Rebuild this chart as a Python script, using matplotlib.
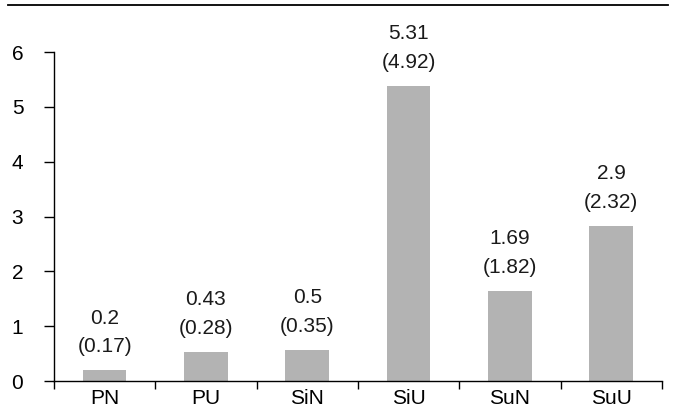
import numpy as np
import matplotlib
matplotlib.use("Agg")
import matplotlib.pyplot as plt
from matplotlib.lines import Line2D

CATEGORIES = ["PN", "PU", "SiN", "SiU", "SuN", "SuU"]
BAR_HEIGHTS = [0.20, 0.53, 0.57, 5.38, 1.65, 2.83]
MEANS = ["0.2", "0.43", "0.5", "5.31", "1.69", "2.9"]
SDS = ["0.17", "0.28", "0.35", "4.92", "1.82", "2.32"]

plt.rcParams['font.family'] = ['Liberation Sans Narrow', 'Liberation Sans', 'DejaVu Sans']
plt.rcParams['font.size'] = 15

def main():
    fig = plt.figure(figsize=(6.74, 4.17), dpi=100)
    ax = fig.add_axes([0.080, 0.086, 0.902, 0.789])

    x = np.arange(len(CATEGORIES))
    ax.bar(x, BAR_HEIGHTS, width=0.43, color="#b3b3b3", zorder=2)

    for xi, h, m, s in zip(x, BAR_HEIGHTS, MEANS, SDS):
        ax.annotate(m + "\n(" + s + ")", (xi, h), xytext=(0, 10),
                    textcoords="offset points", ha="center", va="bottom",
                    fontsize=15, linespacing=1.65, color="#1a1a1a")

    ax.set_xlim(-0.5, len(CATEGORIES) - 0.5)
    ax.set_ylim(0, 6)
    ax.set_yticks(range(0, 7))

    ax.set_xticks(np.arange(-0.5, len(CATEGORIES)), labels=[])
    ax.set_xticks(x, labels=CATEGORIES, minor=True)
    ax.tick_params(axis="x", which="major", length=6, width=1, direction="out")
    ax.tick_params(axis="x", which="minor", length=0, pad=6, labelsize=15)
    ax.tick_params(axis="y", length=7, width=1, pad=15, labelsize=15)

    for side in ["top", "right"]:
        ax.spines[side].set_visible(False)
    ax.spines["left"].set_linewidth(1)
    ax.spines["bottom"].set_linewidth(1)

    # rule across the top of the figure
    fig.add_artist(Line2D([8 / 674, 668 / 674], [1 - 5 / 417, 1 - 5 / 417],
                          color="black", linewidth=1.3, transform=fig.transFigure))

    fig.savefig("out.png", dpi=100)

if __name__ == "__main__":
    main()
